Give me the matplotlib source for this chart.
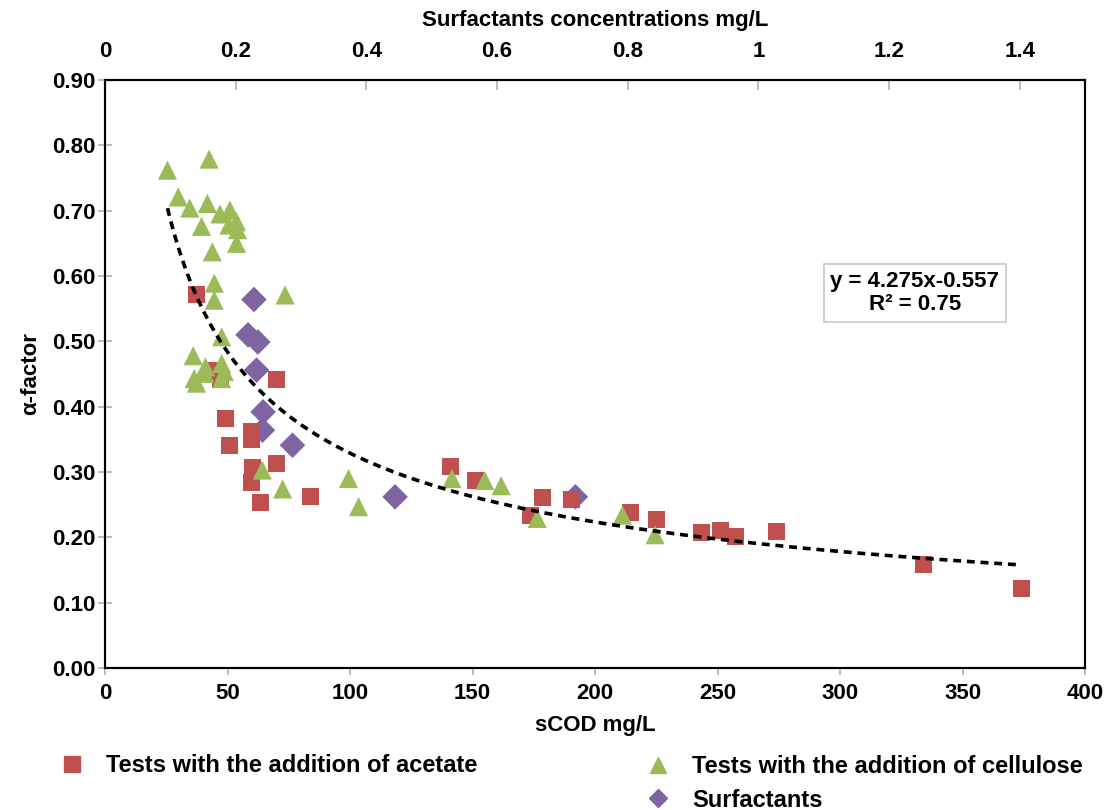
import matplotlib
matplotlib.use("Agg")
import matplotlib.pyplot as plt
import numpy as np
from matplotlib.lines import Line2D

plt.rcParams['font.family'] = ['Liberation Sans', 'DejaVu Sans']
plt.rcParams['font.weight'] = 'bold'

# Tests with the addition of acetate (sCOD mg/L, alpha)
acetate_scod = [37.3, 44.2, 47.3, 69.8, 49.0, 59.6, 59.8, 51.0, 69.8, 60.1, 59.9, 63.3, 83.8,
                141.0, 151.2, 178.4, 173.7, 190.5, 214.6, 225.1, 243.6, 251.4, 257.5, 273.9,
                333.9, 374.2]
acetate_alpha = [0.572, 0.456, 0.441, 0.441, 0.382, 0.362, 0.349, 0.341, 0.313, 0.307, 0.284,
                 0.254, 0.262, 0.308, 0.287, 0.261, 0.233, 0.258, 0.238, 0.227, 0.207, 0.211,
                 0.201, 0.209, 0.159, 0.121]

# Tests with the addition of cellulose
cell_scod = [25.5, 42.5, 29.9, 34.6, 41.8, 46.9, 51.0, 50.6, 53.7, 54.1, 53.7, 39.4, 43.8, 44.6,
             44.6, 73.5, 47.6, 36.0, 41.0, 47.6, 48.7, 40.8, 36.4, 37.3, 47.6, 64.2, 72.5,
             99.4, 103.5, 141.6, 155.0, 161.7, 176.4, 211.2, 224.5]
cell_alpha = [0.762, 0.779, 0.721, 0.704, 0.711, 0.695, 0.701, 0.678, 0.683, 0.671, 0.650,
              0.676, 0.637, 0.589, 0.563, 0.571, 0.507, 0.478, 0.461, 0.466, 0.454, 0.451,
              0.443, 0.436, 0.443, 0.303, 0.274, 0.290, 0.247, 0.290, 0.287, 0.279, 0.229,
              0.234, 0.204]

# Surfactants (concentration mg/L, alpha) on the top axis
surf_conc = [0.228, 0.219, 0.234, 0.232, 0.242, 0.241, 0.287, 0.444, 0.720]
surf_alpha = [0.564, 0.510, 0.499, 0.456, 0.392, 0.364, 0.341, 0.262, 0.262]

# Power trendline y = a * x^b
trend_a = 4.275
trend_b = -0.557
trend_xmin, trend_xmax = 25.5, 374.0

x_ticks = [0, 50, 100, 150, 200, 250, 300, 350, 400]
y_ticks = [0.0, 0.1, 0.2, 0.3, 0.4, 0.5, 0.6, 0.7, 0.8, 0.9]
top_ticks = [0, 0.2, 0.4, 0.6, 0.8, 1.0, 1.2, 1.4]
top_labels = ['0', '0.2', '0.4', '0.6', '0.8', '1', '1.2', '1.4']

RED = '#C0504D'
GREEN = '#9BBB59'
PURPLE = '#8064A2'
FS = 16
LFS = 17

fig = plt.figure(figsize=(11.18, 8.10), dpi=100)
ax = fig.add_axes([105/1118, 1-668/810, (1085-105)/1118, (668-80)/810])
ax.set_xlim(0, 400)
ax.set_ylim(0, 0.9)

ax.scatter(acetate_scod, acetate_alpha, marker='s', s=150, color=RED, edgecolors='none', zorder=3)
ax.scatter(cell_scod, cell_alpha, marker='^', s=190, color=GREEN, edgecolors='none', zorder=4)

xt = np.linspace(trend_xmin, trend_xmax, 300)
ax.plot(xt, trend_a * xt ** trend_b, color='black', lw=2.6, ls=(0, (2.2, 1.6)), zorder=6)

ax.set_xticks(x_ticks)
ax.set_xticklabels([str(v) for v in x_ticks], fontsize=FS, fontweight='bold')
ax.set_yticks(y_ticks)
ax.set_yticklabels([f'{v:.2f}' for v in y_ticks], fontsize=FS, fontweight='bold')
ax.tick_params(axis='x', direction='out', length=5, color='#B0B0B0', width=1.2, pad=6)
ax.tick_params(axis='y', direction='inout', length=10, color='#B0B0B0', width=1.2, pad=2)
ax.set_xlabel('sCOD mg/L', fontsize=FS, fontweight='bold', labelpad=8)
ax.set_ylabel('α-factor', fontsize=FS, fontweight='bold', labelpad=8)
for sp in ax.spines.values():
    sp.set_color('black')
    sp.set_linewidth(1.5)

ax2 = ax.twiny()
ax2.set_xlim(0, 1.5)
ax2.scatter(surf_conc, surf_alpha, marker='D', s=170, color=PURPLE, edgecolors='none', zorder=5)
ax2.set_xticks(top_ticks)
ax2.set_xticklabels(top_labels, fontsize=FS, fontweight='bold')
ax2.tick_params(axis='x', direction='in', length=7, color='#B0B0B0', width=1.2, pad=13)
ax2.set_xlabel('Surfactants concentrations mg/L', fontsize=FS, fontweight='bold', labelpad=11)
for sp in ax2.spines.values():
    sp.set_color('black')
    sp.set_linewidth(1.5)

ax.set_zorder(ax2.get_zorder() + 1)
ax.patch.set_visible(False)

ax.text(330.5, 0.574, 'y = 4.275x-0.557\nR² = 0.75', ha='center', va='center',
        fontsize=FS, fontweight='bold', linespacing=1.15, zorder=7,
        bbox=dict(boxstyle='square,pad=0.3', facecolor='white', edgecolor='#C8C8C8', lw=1.2))

h_ac = Line2D([], [], marker='s', color=RED, ls='none', markersize=11)
h_ce = Line2D([], [], marker='^', color=GREEN, ls='none', markersize=12)
h_su = Line2D([], [], marker='D', color=PURPLE, ls='none', markersize=9)

leg1 = fig.legend([h_ac], ['Tests with the addition of acetate'], loc='center left',
                  bbox_to_anchor=(48/1118, 1-766/810), frameon=False,
                  prop=dict(size=LFS, weight='bold'), handletextpad=0.45, borderpad=0, borderaxespad=0)
leg2 = fig.legend([h_ce, h_su], ['Tests with the addition of cellulose', 'Surfactants'],
                  loc='upper left', bbox_to_anchor=(634/1118, 1-755/810), frameon=False,
                  prop=dict(size=LFS, weight='bold'), handletextpad=0.45, labelspacing=0.45,
                  borderpad=0, borderaxespad=0)

fig.savefig('out.png', dpi=100, facecolor='white')
